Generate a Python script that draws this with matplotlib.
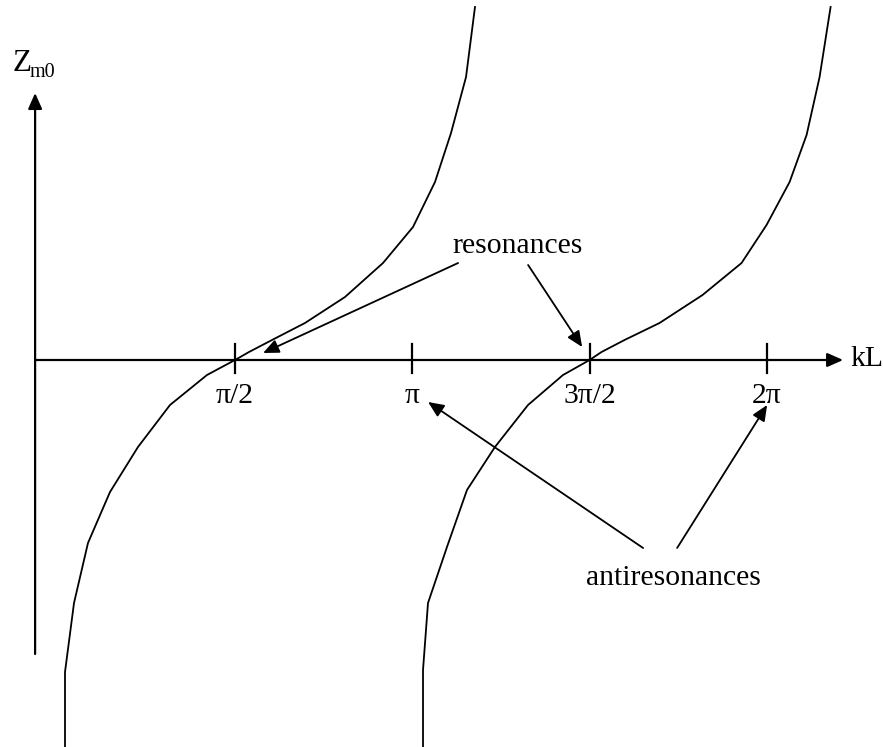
import numpy as np
import matplotlib
matplotlib.use("Agg")
import matplotlib.pyplot as plt
from matplotlib.patches import FancyArrowPatch

plt.rcParams['font.family'] = ['Liberation Serif', 'DejaVu Serif']

# kL in units of pi, Z in arbitrary units
curve1_x = [0.0206, 0.0206, 0.046, 0.0854, 0.1475, 0.2264, 0.3167, 0.4210, 0.5000,
            0.5395, 0.6044, 0.6974, 0.8102, 0.9174, 1.0020, 1.0640, 1.1092, 1.1515, 1.1768]
curve1_z = [-3.90, -3.12, -2.43, -1.83, -1.32, -0.87, -0.45, -0.15, 0.0,
            0.08, 0.20, 0.37, 0.63, 0.97, 1.33, 1.78, 2.27, 2.83, 3.53]
curve2_x = [1.0302, 1.0302, 1.0443, 1.0978, 1.1542, 1.2331, 1.3263, 1.4250, 1.5000,
            1.5336, 1.5985, 1.6972, 1.8185, 1.9285, 1.9990, 2.0640, 2.1119, 2.1486, 2.1796]
curve2_z = [-3.90, -3.10, -2.43, -1.87, -1.30, -0.87, -0.45, -0.15, 0.0,
            0.08, 0.20, 0.37, 0.65, 0.97, 1.35, 1.78, 2.25, 2.83, 3.53]

tick_pos = [0.5, 1.0, 1.5, 2.0]
tick_labels = ['π/2', 'π', '3π/2', '2π']

fig = plt.figure(figsize=(8.83, 7.47), dpi=100)
ax = fig.add_axes([0, 0, 1, 1])
ax.set_xlim(-0.1627, 2.3274)
ax.set_ylim(-3.87, 3.60)
ax.axis('off')

FS = 21.3

def arrow(x0, y0, x1, y1, lw=1.4):
    a = FancyArrowPatch((x0, y0), (x1, y1),
                        arrowstyle='-|>,head_length=0.95,head_width=0.42',
                        mutation_scale=10, lw=lw, color='black',
                        shrinkA=0, shrinkB=0)
    ax.add_patch(a)

# axes
yaxis_x = -0.0637
arrow(-0.0637, 0.0, 2.2149, 0.0, lw=1.6)
arrow(yaxis_x, -2.94, yaxis_x, 2.67, lw=1.6)

# ticks
for p, lab in zip(tick_pos, tick_labels):
    ax.plot([p, p], [-0.13, 0.16], color='black', lw=1.6)
    ax.text(p, -0.43, lab, ha='center', va='baseline', fontsize=FS)

# curves
ax.plot(curve1_x, curve1_z, color='black', lw=1.3)
ax.plot(curve2_x, curve2_z, color='black', lw=1.3)

# labels
ax.text(2.235, -0.06, 'kL', ha='left', va='baseline', fontsize=FS)
ax.text(-0.1286, 2.89, 'Z', ha='left', va='baseline', fontsize=FS + 1)
ax.text(-0.0807, 2.83, 'm0', ha='left', va='baseline', fontsize=14.5)

ax.text(1.1123, 1.07, 'resonances', ha='left', va='baseline', fontsize=FS)
ax.text(1.4902, -2.25, 'antiresonances', ha='left', va='baseline', fontsize=FS)

arrow(1.1292, 0.97, 0.5792, 0.07, lw=1.3)
arrow(1.3266, 0.95, 1.4789, 0.13, lw=1.3)
arrow(1.6509, -1.88, 1.0445, -0.42, lw=1.3)
arrow(1.7468, -1.88, 2.0006, -0.45, lw=1.3)

fig.savefig('out.png', dpi=100)
